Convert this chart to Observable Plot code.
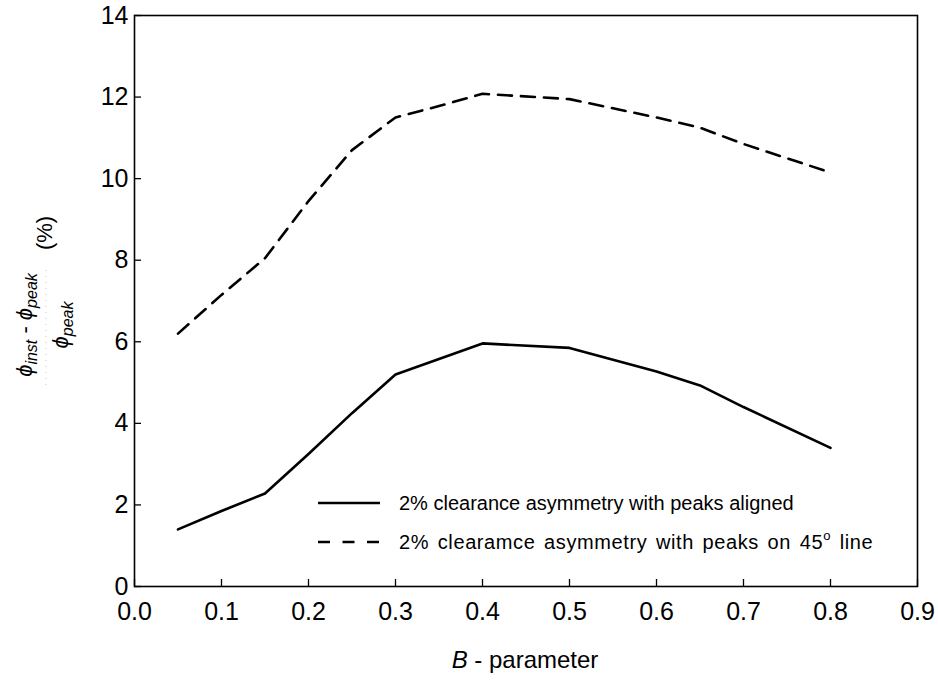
<!DOCTYPE html>
<html><head><meta charset="utf-8">
<script src="https://cdn.jsdelivr.net/npm/d3@7"></script>
<script src="https://cdn.jsdelivr.net/npm/@observablehq/plot@0.6"></script>
<style>body{margin:0;background:#fff;} svg{display:block;} .lab text, .lab tspan{fill:#000;}</style>
</head><body><div id="chart"></div>
<script>
// B-parameter values (x)
const bParam = [0.05, 0.1, 0.15, 0.2, 0.25, 0.3, 0.35, 0.4, 0.5, 0.6, 0.65, 0.7, 0.8];
// Series 1: 2% clearance asymmetry with peaks aligned (solid)
const alignedPct = [1.4, 1.85, 2.28, 3.25, 4.25, 5.2, 5.58, 5.96, 5.85, 5.27, 4.93, 4.4, 3.4];
// Series 2: 2% clearamce asymmetry with peaks on 45° line (dashed)
const diagonalPct = [6.2, 7.15, 8.05, 9.45, 10.7, 11.5, 11.78, 12.08, 11.95, 11.5, 11.25, 10.85, 10.15];
const xTicks = [0, 0.1, 0.2, 0.3, 0.4, 0.5, 0.6, 0.7, 0.8, 0.9];
const yTicks = [0, 2, 4, 6, 8, 10, 12, 14];
const seriesNames = ["2% clearance asymmetry with peaks aligned", "2% clearamce asymmetry with peaks on "];

const font = "'Liberation Sans', Arial, Helvetica, sans-serif";
const alignedRows = bParam.map((b, i) => ({b, v: alignedPct[i]}));
const diagonalRows = bParam.map((b, i) => ({b, v: diagonalPct[i]}));

const svg = Plot.plot({
  width: 938,
  height: 681,
  marginLeft: 134,
  marginRight: 21,
  marginTop: 15,
  marginBottom: 95,
  style: {fontFamily: font, background: "#fff", color: "#000"},
  x: {domain: [0, 0.9]},
  y: {domain: [0, 14]},
  marks: [
    Plot.axisX(xTicks, {tickSize: -7, tickPadding: 23, tickFormat: d3.format(".1f"), fontSize: 25, label: null, strokeWidth: 1.3}),
    Plot.axisY(yTicks, {tickSize: -7, tickPadding: 13, fontSize: 25, label: null, strokeWidth: 1.3}),
    Plot.line(alignedRows, {x: "b", y: "v", stroke: "#000", strokeWidth: 2.6}),
    Plot.line(diagonalRows, {x: "b", y: "v", stroke: "#000", strokeWidth: 2.6, strokeDasharray: "14,9"}),
    Plot.frame({stroke: "#000", strokeWidth: 1.6})
  ]
});
document.getElementById("chart").appendChild(svg);

const s = d3.select(svg);
const lab = s.append("g").attr("class", "lab").attr("font-family", font).attr("text-anchor", "start");

// X axis label
const xl = lab.append("text").attr("x", 525).attr("y", 668).attr("text-anchor", "middle")
  .attr("font-size", 24);
xl.append("tspan").attr("font-style", "italic").text("B");
xl.append("tspan").text(" - parameter");

// Y axis label (fraction)
const yl = lab.append("g").attr("transform", "translate(44,325) rotate(-90)");
const num = yl.append("text").attr("x", 0).attr("y", -12).attr("text-anchor", "middle").attr("font-size", 22);
num.append("tspan").attr("font-style", "italic").text("ϕ");
num.append("tspan").attr("font-style", "italic").attr("font-size", 16).attr("dy", 5).text("inst");
num.append("tspan").attr("dy", -5).text(" - ");
num.append("tspan").attr("font-style", "italic").text("ϕ");
num.append("tspan").attr("font-style", "italic").attr("font-size", 16).attr("dy", 5).text("peak");
yl.append("line").attr("x1", -60).attr("x2", 60).attr("y1", 2).attr("y2", 2)
  .attr("stroke", "#bbb").attr("stroke-width", 0.8).attr("stroke-dasharray", "1,5");
const den = yl.append("text").attr("x", 0).attr("y", 24).attr("text-anchor", "middle").attr("font-size", 22);
den.append("tspan").attr("font-style", "italic").text("ϕ");
den.append("tspan").attr("font-style", "italic").attr("font-size", 16).attr("dy", 5).text("peak");
yl.append("text").attr("x", 92).attr("y", 8).attr("text-anchor", "middle").attr("font-size", 22).text("(%)");

// Legend
const lg = lab.append("g").attr("font-size", 20).attr("text-anchor", "start");
lg.append("line").attr("x1", 318).attr("x2", 380).attr("y1", 503).attr("y2", 503)
  .attr("stroke", "#000").attr("stroke-width", 2.6);
lg.append("text").attr("x", 399).attr("y", 510).text(seriesNames[0]);
lg.append("line").attr("x1", 318).attr("x2", 380).attr("y1", 542).attr("y2", 542)
  .attr("stroke", "#000").attr("stroke-width", 2.6).attr("stroke-dasharray", "12,12.5");
const t2 = lg.append("text").attr("x", 399).attr("y", 549).attr("letter-spacing", 0.6).attr("word-spacing", 2.5);
t2.append("tspan").text(seriesNames[1] + "45");
t2.append("tspan").attr("font-size", 13).attr("dy", -9).text("o");
t2.append("tspan").attr("dy", 9).text(" line");
</script>
</body></html>
